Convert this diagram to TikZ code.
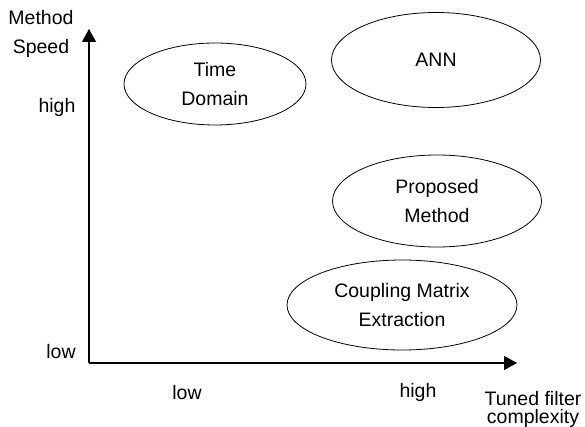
\documentclass[tikz,border=0pt]{standalone}
\usepackage{fontspec}
\setmainfont{Liberation Sans}
\usetikzlibrary{shapes.geometric,arrows.meta}
\begin{document}
\begin{tikzpicture}[x=1pt,y=-1pt,
  lbl/.style={font=\fontsize{19.5}{29}\selectfont, inner sep=0pt, align=center},
  oval/.style={draw, line width=0.8pt, ellipse, inner sep=0pt, align=center, font=\fontsize{19.5}{29}\selectfont},
  axis/.style={line width=1.6pt, -{Triangle[length=13pt,width=14pt]}}]
\useasboundingbox (0,0) rectangle (585,427);
\coordinate (O) at (89,363);
\coordinate (Ytip) at (89,29);
\coordinate (Xtip) at (517,363);
\draw[axis] (O) -- (Ytip);
\draw[axis] (O) -- (Xtip);
\node[lbl] (ylab) at (41,34) {Method\\Speed};
\node[lbl] (yhigh) at (57,107) {high};
\node[lbl] (ylow) at (61,352) {low};
\node[lbl] (xlow) at (187,393) {low};
\node[lbl] (xhigh) at (418,392) {high};
\node[lbl, font=\fontsize{19.5}{18}\selectfont] (xlab) at (533,409) {Tuned filter\\complexity};
\node[oval, minimum width=182pt, minimum height=82pt] (td) at (215,84) {Time\\Domain};
\node[oval, minimum width=209pt, minimum height=95pt] (ann) at (436,60) {ANN};
\node[oval, minimum width=209pt, minimum height=92pt] (pm) at (437,201) {Proposed\\Method};
\node[oval, minimum width=230pt, minimum height=90pt] (cm) at (402,305) {Coupling Matrix\\Extraction};
\end{tikzpicture}
\end{document}
